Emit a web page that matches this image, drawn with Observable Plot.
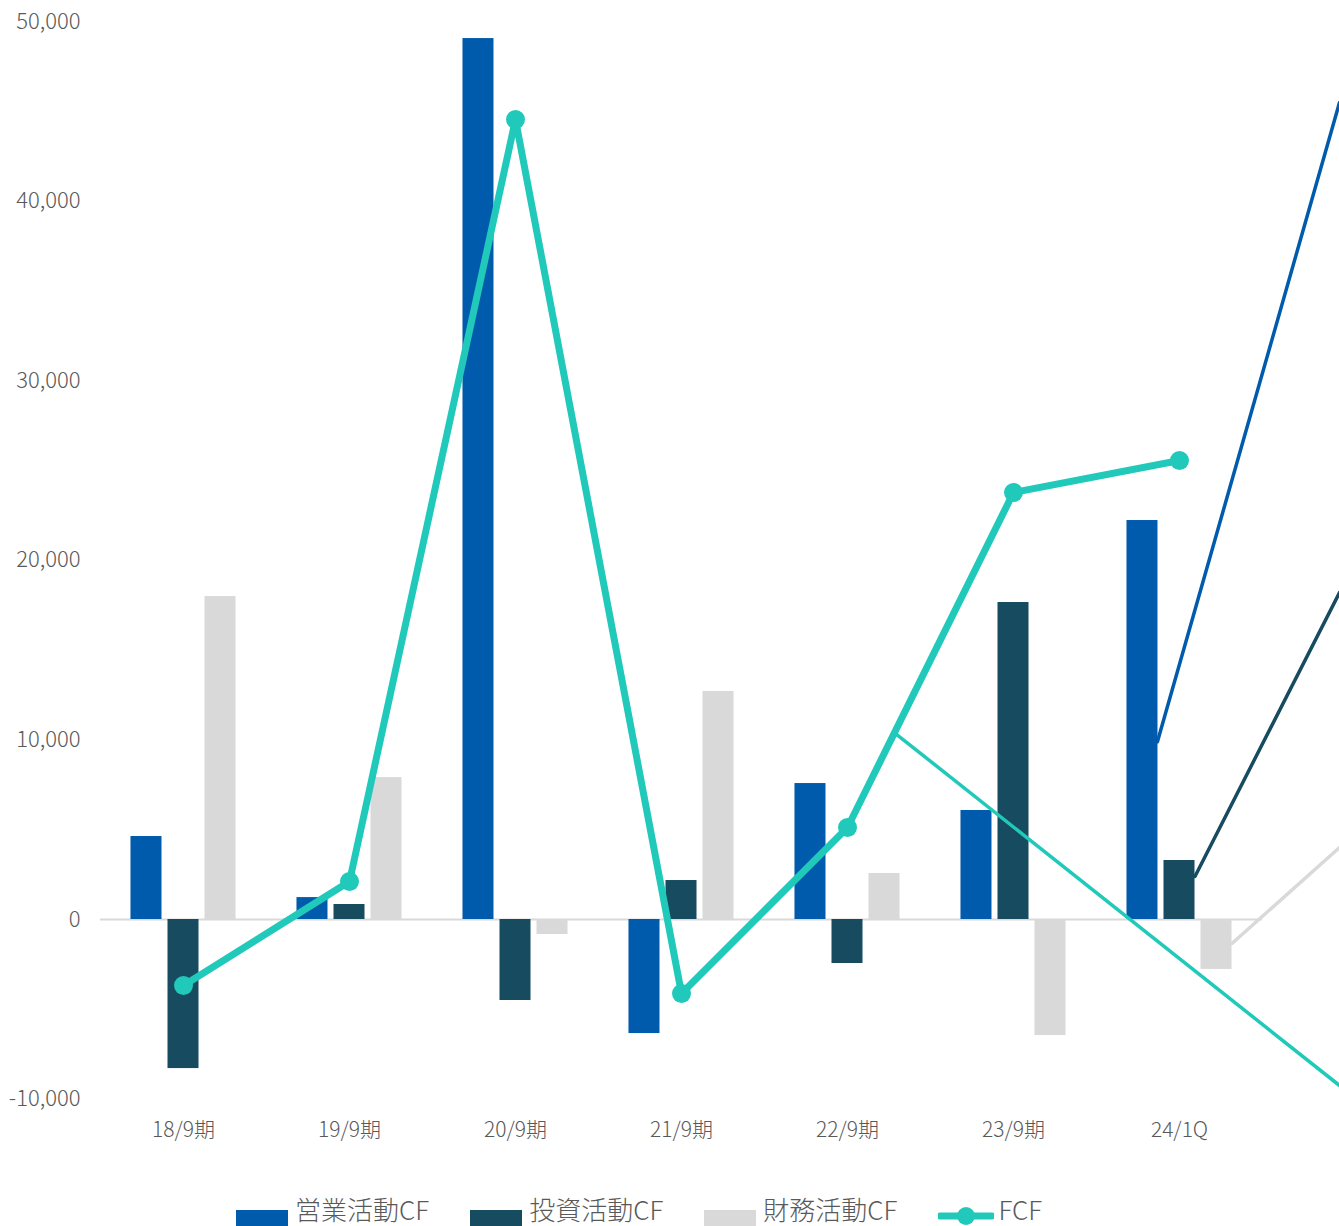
<!DOCTYPE html>
<html>
<head>
<meta charset="utf-8">
<script src="https://cdn.jsdelivr.net/npm/d3@7"></script>
<script src="https://cdn.jsdelivr.net/npm/@observablehq/plot@0.6"></script>
<style>
  html, body { margin: 0; padding: 0; background: #fff; overflow: hidden; }
  #chart svg { display: block; }
  #legend { display: flex; align-items: flex-start; padding-left: 236px; height: 46px;
    font-family: "Noto Sans CJK JP", "Noto Sans", sans-serif; font-weight: 300; font-size: 26px; color: #595959; line-height: 1; }
  .sw { width: 52px; height: 16px; margin-top: 30px; margin-right: 7px; }
  .lt { margin-top: 16px; margin-right: 41px; white-space: nowrap; }
</style>
</head>
<body>
<div id="chart"></div>
<div id="legend"></div>
<script>
const categories = ["18/9期", "19/9期", "20/9期", "21/9期", "22/9期", "23/9期", "24/1Q"];
const operatingCF = [4620, 1220, 49050, -6350, 7570, 6070, 22215];
const investingCF = [-8300, 835, -4510, 2170, -2450, 17650, 3285];
const financingCF = [17980, 7900, -835, 12700, 2560, -6460, -2780];
const fcf = [-3670, 2115, 44540, -4120, 5120, 23775, 25560];
const seriesNames = ["営業活動CF", "投資活動CF", "財務活動CF", "FCF"];
const yTicks = [-10000, 0, 10000, 20000, 30000, 40000, 50000];
// stray leader lines visible at the right of the source picture (category-position, value)
const leaderFromCat = [5.867, 6.093, 6.316, 4.289];
const leaderFromValue = [9900, 2394, -1336, 10356];
const leaderToCat = [6.964, 6.964, 6.964, 6.964];
const leaderToValue = [45490, 18207, 4009, -9243];

const colors = ["#005BAC", "#164B60", "#D9D9D9", "#20C9BA"];
const offsets = [-0.223, 0, 0.223];
const hw = 0.0934;

const seriesValues = [operatingCF, investingCF, financingCF];
const barMarks = seriesValues.map((vals, s) =>
  Plot.rect(vals.map((v, i) => ({i, v})), {
    x1: d => d.i + offsets[s] - hw,
    x2: d => d.i + offsets[s] + hw,
    y1: 0, y2: "v", fill: colors[s]
  })
);
const fcfData = fcf.map((v, i) => ({i, v}));
const leaderMarks = leaderFromCat.map((c, k) =>
  Plot.line([{x: c, y: leaderFromValue[k]}, {x: leaderToCat[k], y: leaderToValue[k]}], {
    x: "x", y: "y", stroke: colors[k], strokeWidth: 3.5
  })
);

const chart = Plot.plot({
  width: 1339, height: 1180,
  marginLeft: 100, marginRight: 77, marginTop: 21, marginBottom: 81.4,
  style: {fontFamily: '"Noto Sans CJK JP", "Noto Sans", sans-serif', fontWeight: 300, color: "#595959", background: "#fff"},
  x: {type: "linear", domain: [-0.5, 6.5], axis: null},
  y: {domain: [-10000, 50000], axis: null},
  marks: [
    Plot.ruleY([0], {stroke: "#D9D9D9", strokeWidth: 2}),
    ...barMarks,
    ...leaderMarks,
    Plot.line(fcfData, {x: "i", y: "v", stroke: colors[3], strokeWidth: 7, strokeLinejoin: "round"}),
    Plot.dot(fcfData, {x: "i", y: "v", r: 9.5, fill: colors[3]}),
    Plot.axisY({ticks: yTicks, tickSize: 0, tickPadding: 20, fontSize: 22,
      tickFormat: d => d.toLocaleString("en-US"), fill: "#595959"}),
    Plot.axisX({ticks: d3.range(categories.length), tickSize: 0, tickPadding: 23, fontSize: 21,
      tickFormat: i => categories[i], fill: "#595959"})
  ]
});
document.getElementById("chart").appendChild(chart);

const legend = document.getElementById("legend");
seriesNames.forEach((name, k) => {
  let sw;
  if (k < 3) {
    sw = document.createElement("div");
    sw.className = "sw";
    sw.style.background = colors[k];
  } else {
    sw = document.createElementNS("http://www.w3.org/2000/svg", "svg");
    sw.setAttribute("class", "sw");
    sw.setAttribute("width", 56);
    sw.setAttribute("height", 20);
    sw.style.width = "56px";
    sw.style.height = "20px";
    sw.style.marginTop = "26px";
    sw.style.marginRight = "4px";
    sw.innerHTML = `<line x1="2" y1="10" x2="54" y2="10" stroke="${colors[3]}" stroke-width="7" stroke-linecap="round"/><circle cx="28" cy="10" r="9" fill="${colors[3]}"/>`;
  }
  const t = document.createElement("div");
  t.className = "lt";
  t.textContent = name;
  legend.appendChild(sw);
  legend.appendChild(t);
});
</script>
</body>
</html>
